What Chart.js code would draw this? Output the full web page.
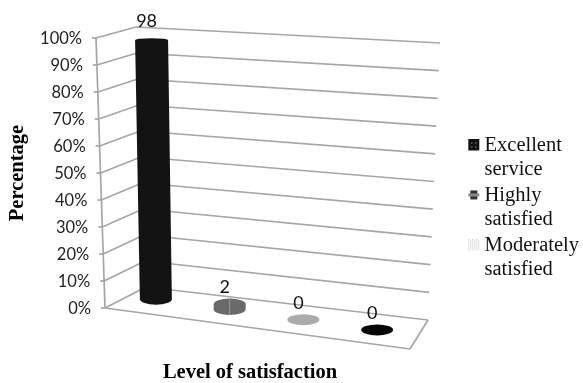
<!DOCTYPE html>
<html>
<head>
<meta charset="utf-8">
<style>
  html, body { margin: 0; padding: 0; background: #fff; }
  #wrap { position: relative; width: 583px; height: 383px; }
</style>
<script src="https://cdn.jsdelivr.net/npm/chart.js@4"></script>
</head>
<body>
<div id="wrap"><canvas id="chart"></canvas></div>
<script>
const categories = ["Excellent service", "Highly satisfied", "Moderately satisfied", ""];
const percentages = [98, 2, 0, 0];
const legendLines = [["Excellent", "service"], ["Highly", "satisfied"], ["Moderately", "satisfied"]];
const barColors = ["#131313", "#6a6a6a", "#ababab", "#060606"];
const xAxisTitle = "Level of satisfaction";
const yAxisTitle = "Percentage";

// fake 3D frame, corners
const frame = {
  axisTop: [96, 38], axisBottom: [105, 308],
  backTop: [136, 27], backBottom: [146, 287],
  rightTop: [440, 43], rightBottom: [428, 320],
  floorFront: [410, 349],
  midTopLeft: [110, 32], midTopRight: [442, 56],
  midBottomLeft: [119, 294], midBottomRight: [414, 335]
};
const gridColor = "#a6a6a6";

function mix(a, b, t) {
  return [a[0] + (b[0] - a[0]) * t, a[1] + (b[1] - a[1]) * t];
}

function project(u, v) {
  const bottom = mix(frame.midBottomLeft, frame.midBottomRight, u);
  const top = mix(frame.midTopLeft, frame.midTopRight, u);
  return mix(bottom, top, v);
}

function line(ctx, a, b) {
  ctx.beginPath();
  ctx.moveTo(a[0], a[1]);
  ctx.lineTo(b[0], b[1]);
  ctx.stroke();
}

// legend markers, drawn in the right half so they sit close to the text
function makeMarker(kind) {
  const c = document.createElement("canvas");
  c.width = 24;
  c.height = 12;
  const g = c.getContext("2d");
  const left = 12;
  if (kind === 0) {
    g.fillStyle = "#111";
    g.fillRect(left, 0, 11, 11);
    g.fillStyle = "#ccc";
    [[3, 3], [7, 3], [3, 7], [7, 7]].forEach(p => g.fillRect(left + p[0], p[1], 1, 1));
  } else if (kind === 1) {
    g.fillStyle = "#333";
    g.fillRect(left + 2, 1, 7, 3);
    g.fillStyle = "#888";
    g.fillRect(left, 4, 11, 3);
    g.fillStyle = "#333";
    g.fillRect(left + 2, 7, 7, 3);
  } else {
    g.fillStyle = "#bbb";
    for (let i = 0; i < 11; i += 2) {
      for (let j = (i % 4 ? 1 : 0); j < 11; j += 2) g.fillRect(left + i, j, 1, 1);
    }
  }
  return c;
}

const frame3d = {
  id: "frame3d",
  beforeDatasetsDraw(chart) {
    const ctx = chart.ctx;
    const y = chart.scales.y;
    const x = chart.scales.x;
    const area = chart.chartArea;
    ctx.save();
    ctx.strokeStyle = gridColor;
    ctx.lineWidth = 1.7;

    // floor and axis
    line(ctx, frame.axisTop, frame.axisBottom);
    line(ctx, frame.axisBottom, frame.floorFront);
    line(ctx, frame.floorFront, frame.rightBottom);

    // gridlines and tick labels
    ctx.font = "16.5px Lato";
    ctx.textAlign = "right";
    ctx.textBaseline = "middle";
    y.ticks.forEach(t => {
      const v = (area.bottom - y.getPixelForValue(t.value)) / (area.bottom - area.top);
      const front = mix(frame.axisBottom, frame.axisTop, v);
      const back = mix(frame.backBottom, frame.backTop, v);
      const right = mix(frame.rightBottom, frame.rightTop, v);
      line(ctx, [front[0] - 4, front[1]], front);
      line(ctx, front, back);
      line(ctx, back, right);
      ctx.fillStyle = "#222";
      ctx.fillText(t.label, front[0] - 14, front[1] + 1);
    });

    // cylinders
    const meta = chart.getDatasetMeta(0);
    meta.data.forEach((bar, i) => {
      const u = (x.getPixelForValue(i) - area.left) / (area.right - area.left);
      const v = (area.bottom - y.getPixelForValue(percentages[i])) / (area.bottom - area.top);
      const b = project(u, 0);
      const t = project(u, v);
      const rxB = 16;
      const rxT = 16 + v * 0.5;
      const ryB = 5.5;
      const ryT = 5.5 - v * 3.5;
      ctx.fillStyle = barColors[i];
      ctx.beginPath();
      ctx.ellipse(b[0], b[1], rxB, ryB, 0, 0, Math.PI);
      ctx.lineTo(t[0] - rxT, t[1]);
      ctx.ellipse(t[0], t[1], rxT, ryT, 0, Math.PI, Math.PI * 2);
      ctx.closePath();
      ctx.fill();

      // the grey cylinder shows a pale seam down its middle
      if (i === 1) {
        ctx.save();
        ctx.strokeStyle = "#999";
        ctx.lineWidth = 1;
        line(ctx, [t[0], t[1] - ryT], [b[0], b[1] + ryB]);
        ctx.restore();
      }

      // value label
      ctx.fillStyle = "#111";
      ctx.font = "18px Lato";
      ctx.textAlign = "center";
      ctx.fillText(String(percentages[i]), t[0] - 5, t[1] - ryT - 11 - v * 6);
    });

    // axis titles
    ctx.fillStyle = "#000";
    ctx.font = "bold 20.5px 'Liberation Serif'";
    ctx.textAlign = "center";
    ctx.fillText(xAxisTitle, 250, 373);
    ctx.translate(18, 173);
    ctx.rotate(-Math.PI / 2);
    ctx.fillText(yAxisTitle, 0, 0);
    ctx.restore();
    return false;
  }
};

const chart = new Chart(document.getElementById("chart"), {
  type: "bar",
  data: {
    labels: categories,
    datasets: [{ data: percentages, backgroundColor: barColors }]
  },
  options: {
    responsive: true,
    maintainAspectRatio: false,
    animation: false,
    layout: { padding: { left: 97, top: 38, bottom: 75, right: -6 } },
    scales: {
      x: { display: false },
      y: { display: false, min: 0, max: 100, ticks: { stepSize: 10, callback: v => v + "%" } }
    },
    plugins: {
      tooltip: { enabled: false },
      legend: {
        position: "right",
        align: "start",
        title: { display: true, text: " ", font: { size: 1 }, padding: { top: 94, bottom: 0 } },
        labels: {
          usePointStyle: true,
          boxWidth: 12,
          padding: 2,
          color: "#111",
          font: { family: "'Liberation Serif'", size: 20.5, lineHeight: 1.17 },
          generateLabels: () => legendLines.map((text, i) => ({
            text: text,
            fontColor: "#111",
            pointStyle: makeMarker(i),
            datasetIndex: 0,
            index: i
          }))
        }
      }
    }
  },
  plugins: [frame3d]
});
</script>
</body>
</html>
